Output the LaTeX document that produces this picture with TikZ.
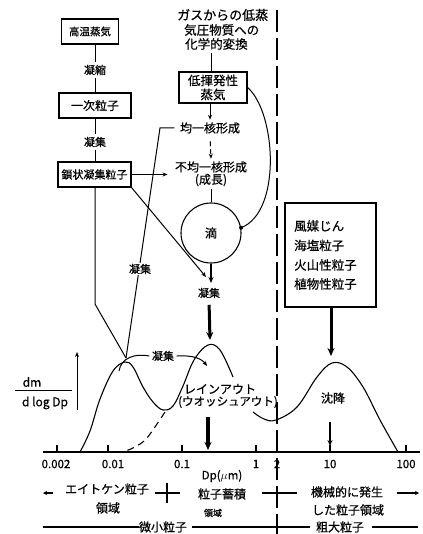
\documentclass[tikz,border=0pt]{standalone}
\usepackage{fontspec}
\setmainfont{Noto Sans CJK JP}[BoldFont={Noto Sans CJK JP}, BoldFeatures={FakeBold=0.6}]
\usetikzlibrary{arrows.meta}
\begin{document}
\bfseries
\begin{tikzpicture}[x=1pt,y=-1pt,
  ln/.style={line width=1pt},
  bx/.style={draw, line width=1.1pt, inner sep=0pt, align=center},
  tx/.style={inner sep=0pt, font=\fontsize{12}{14}\selectfont},
  sm/.style={inner sep=2.5pt, font=\fontsize{11}{13}\selectfont},
  arr/.style={-{Stealth[length=5pt,width=4pt]}},
  bigarr/.style={line width=3pt,-{Stealth[length=8pt,width=7pt]}},
]
\useasboundingbox (0,0) rectangle (422,534);

% left chain
\node[bx, minimum width=57pt, minimum height=25pt, font=\fontsize{10.5}{12}\selectfont] (b1) at (90,31.5) {高温蒸気};
\node[sm] (c1) at (95,70) {凝縮};
\node[bx, minimum width=72pt, minimum height=25pt, font=\fontsize{12}{14}\selectfont] (b2) at (95,105.5) {一次粒子};
\node[sm] (c2) at (95,142) {凝集};
\node[bx, minimum width=73pt, minimum height=25pt, font=\fontsize{11}{13}\selectfont] (b3) at (94.5,174.5) {鎖状凝集粒子};
\draw[ln] (b1.south -| c1.north) -- (c1.north);
\draw[ln] (c1.south) -- (b2.north -| c1.south);
\draw[ln] (b2.south -| c2.north) -- (c2.north);
\draw[ln] (c2.south) -- (b3.north -| c2.south);

% top middle
\node[tx, anchor=west, font=\fontsize{13}{15}\selectfont] (g1) at (177,15) {ガスからの低蒸};
\node[tx, anchor=west, font=\fontsize{12.5}{14}\selectfont] (g2) at (184,30) {気圧物質への};
\node[tx, anchor=west, font=\fontsize{12.5}{14}\selectfont] (g3) at (185,44) {化学的変換};
\node[bx, minimum width=68pt, minimum height=31pt, font=\fontsize{12.5}{14}\selectfont] (b4) at (213,87.5) {低揮発性\\蒸気};
\coordinate (g0) at (211,53);
\draw[ln] (g0) -- (g0 |- b4.north);

\node[sm, font=\fontsize{12}{14}\selectfont] (h1) at (210,128) {均一核形成};
\node[sm, font=\fontsize{12}{14}\selectfont] (h2) at (211,167) {不均一核形成};
\node[sm, font=\fontsize{12}{14}\selectfont] (h3) at (211,180) {(成長)};
\draw[ln,arr] (b4.south -| h1.north) -- (h1.north);
\draw[ln,arr,dashed,dash pattern=on 5pt off 3pt, shorten <=5pt] (h1.south) -- (h2.north);

\node[draw, circle, line width=1.1pt, minimum size=60pt, inner sep=0pt, font=\fontsize{12}{14}\selectfont] (d) at (211,233) {滴};
\draw[ln] (h3.south) -- (d.north);
\draw[ln] (b4.east) .. controls (276,112) and (282,212) .. (d.10);
\fill (d.10) circle (2pt);

% long lines to the first peak
\coordinate (pk1) at (126,358);
\coordinate (L2a) at (160,128);
\coordinate (L1a) at (95,304);
\draw[ln, shorten >=3pt] (pk1) -- (L2a) -- (L2a -| h1.west);
\draw[ln] (b3.south -| c2.south) -- (L1a) -- (pk1);
\node[sm, fill=white, inner sep=1pt] (c3) at (140,269) {凝集};

\draw[ln,arr] (b3.east) -- ++(36,0);
\coordinate (dg) at (206,277);
\draw[ln,arr] (b3.south east) -- (dg);

\draw[line width=2pt,-{Stealth[length=6pt,width=5pt]}] (d.south) -- (211,283);
\node[sm] (c4) at (209,293) {凝集};
\coordinate (pk2a) at (210,340);
\draw[bigarr, shorten <=4pt] (c4.south) -- (pk2a);

% right box
\node[draw, line width=1.1pt, minimum width=91pt, minimum height=104pt] (b5) at (330.5,255) {};
\node[tx, anchor=west, font=\fontsize{12.5}{14}\selectfont] (r1) at (294,226) {風媒じん};
\node[tx, anchor=west, font=\fontsize{12.5}{14}\selectfont] (r2) at (294,245.5) {海塩粒子};
\node[tx, anchor=west, font=\fontsize{12.5}{14}\selectfont] (r3) at (294,265) {火山性粒子};
\node[tx, anchor=west, font=\fontsize{12.5}{14}\selectfont] (r4) at (294,284) {植物性粒子};
\coordinate (pk3a) at (331,356);
\draw[bigarr] (b5.south -| pk3a) -- (pk3a);

% vertical dashed divider
\coordinate (v1) at (277,10);
\coordinate (v2) at (277,534);
\draw[line width=1.6pt, dash pattern=on 22pt off 6pt] (v1) -- (v2);

% axis
\coordinate (ax0) at (43,452);
\coordinate (ax1) at (420,452);
\draw[line width=1.2pt] (ax0) -- (ax1);
\foreach \xx in {57, 108, 182, 256, 277, 330, 406} {
  \draw[line width=1.1pt] (\xx,452) -- (\xx,445);
}
\foreach \xx/\lab/\nm in {56/0.002/k1, 113/0.01/k2, 182/0.1/k3, 256/1/k4, 277/2/k5, 330/10/k6, 406/100/k7} {
  \node[tx, font=\fontsize{11.5}{13}\selectfont] (\nm) at (\xx,464) {\lab};
}
\node[tx, font=\fontsize{11.5}{13}\selectfont] (dp) at (222,476) {Dp($\mu$m)};

% y label
\node[tx, font=\fontsize{12}{14}\selectfont] (ym) at (32,382) {dm};
\coordinate (fr0) at (15,390);
\coordinate (fr1) at (72,390);
\draw[ln] (fr0) -- (fr1);
\node[tx, font=\fontsize{12}{14}\selectfont] (yd) at (45,403) {d log Dp};
\coordinate (ya0) at (77,410);
\coordinate (ya1) at (77,352);
\draw[ln,arr] (ya0) -- (ya1);

% distribution curves
\draw[line width=1.1pt] plot[smooth, tension=0.6] coordinates {(80,452) (90,431) (100,399) (113,371) (125,362) (133,367) (143,387) (153,402) (163,410) (173,406) (183,386) (194,360) (208,345) (220,350) (233,377)};
\draw[line width=1.1pt] plot[smooth, tension=0.6] coordinates {(253,412) (264,419) (276,420) (297,407) (317,377) (332,363) (347,367) (363,387) (380,420) (398,452)};
\draw[line width=1.1pt, dash pattern=on 7pt off 5pt] plot[smooth] coordinates {(165,412) (147,438) (135,447) (123,452)};

% coagulation between modes
\node[sm] (c5) at (163,356) {凝集};
\draw[ln] (119,371) .. controls (121,358) and (135,353) .. (c5.west);
\draw[ln,arr] (c5.east) .. controls (194,355) and (202,359) .. (207,366);

\node[tx, font=\fontsize{12}{14}\selectfont] (ra1) at (220,389) {レインアウト};
\node[tx, font=\fontsize{11.5}{14}\selectfont] (ra2) at (228,402) {(ウオッシュアウト)};
\node[sm, font=\fontsize{12}{14}\selectfont] (sd) at (333,398) {沈降};

\coordinate (ar1) at (208,450);
\draw[line width=3.5pt,-{Stealth[length=8pt,width=7pt]}] (208,417) -- (ar1);
\coordinate (ar2) at (330,446);
\draw[line width=2pt,-{Stealth[length=6pt,width=5pt]}] (330,422) -- (ar2);

% bottom classification rows
\coordinate (e0) at (53,493);
\coordinate (e1) at (43,493);
\draw[line width=1.5pt,-{Stealth[length=4pt,width=4pt]}] (e0) -- (e1);
\node[tx] (m1) at (107,489) {エイトケン粒子};
\node[tx] (m2) at (108,508) {領域};
\draw[line width=1.1pt] (155,493) -- (180,493);
\draw[line width=1.1pt] (167,483) -- (167,503);
\node[tx] (m3) at (222,494) {粒子蓄積};
\node[tx, font=\fontsize{9}{11}\selectfont] (m4) at (213,513) {領域};
\draw[line width=1.1pt] (262,493) -- (297,493);
\node[tx] (m5) at (347,492) {機械的に発生};
\node[tx] (m6) at (348,510) {した粒子領域};
\coordinate (e2) at (397,493);
\coordinate (e3) at (419,493);
\draw[line width=1.1pt,-{Stealth[length=4pt,width=4pt]}] (e2) -- (e3);

\node[tx] (n1) at (163,527) {微小粒子};
\node[tx] (n2) at (340,527) {粗大粒子};
\draw[line width=1.1pt] (43,527) -- (n1.west);
\draw[line width=1.1pt] ([xshift=5pt]n1.east) -- ([xshift=-6pt]n2.west);
\draw[line width=1.1pt] ([xshift=8pt]n2.east) -- (418,527);
\end{tikzpicture}
\end{document}
